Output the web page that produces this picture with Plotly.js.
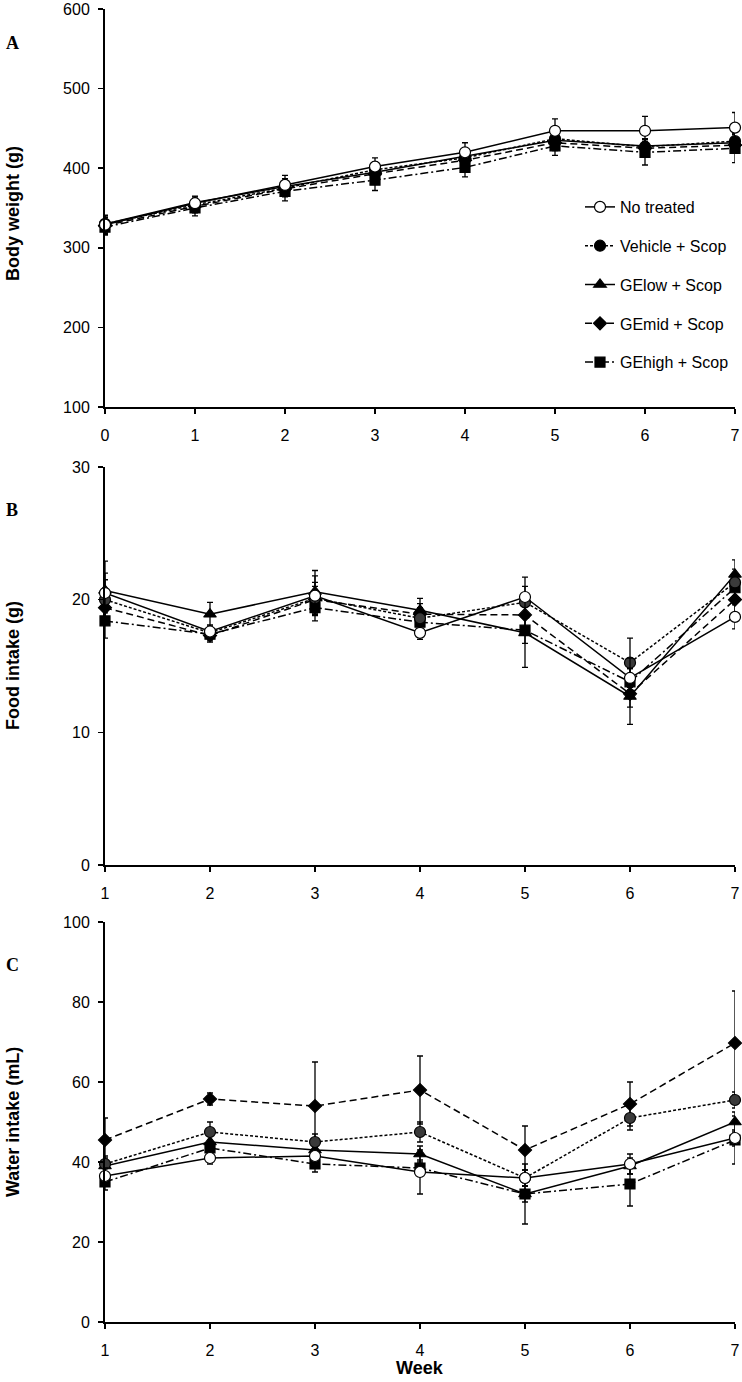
<!DOCTYPE html>
<html>
<head>
<meta charset="utf-8">
<script src="https://cdn.plot.ly/plotly-3.0.1.min.js"></script>
<style>html,body{margin:0;padding:0;background:#fff;}#chart{width:742px;height:1382px;}</style>
</head>
<body>
<div id="chart"></div>
<script>
// ---------- DATA ----------
const groups = ["No treated", "Vehicle + Scop", "GElow + Scop", "GEmid + Scop", "GEhigh + Scop"];

// Panel A: body weight (g), weeks 0-7
const weeksA = [0, 1, 2, 3, 4, 5, 6, 7];
const bwNoTreated = [329, 356, 379, 402, 420, 447, 447, 451];
const bwVehicle   = [330, 354, 375, 398, 413, 437, 427, 434];
const bwGElow     = [330, 357, 377, 395, 415, 435, 428, 432];
const bwGEmid     = [328, 352, 374, 393, 410, 432, 425, 429];
const bwGEhigh    = [326, 350, 371, 385, 401, 428, 420, 425];
const bwNoTreatedErr = [12, 8, 12, 11, 12, 15, 18, 19];
const bwVehicleErr   = [10, 8, 10, 10, 10, 10, 10, 10];
const bwGElowErr     = [10, 8, 10, 10, 10, 10, 8, 10];
const bwGEmidErr     = [10, 8, 10, 10, 10, 10, 8, 10];
const bwGEhighErr    = [10, 10, 12, 13, 12, 12, 16, 18];

// Panel B: food intake (g), weeks 1-7
const weeksBC = [1, 2, 3, 4, 5, 6, 7];
const foodNoTreated = [20.5, 17.6, 20.3, 17.5, 20.2, 14.1, 18.7];
const foodVehicle   = [20.0, 17.5, 20.1, 18.6, 19.8, 15.25, 21.3];
const foodGElow     = [20.7, 18.9, 20.6, 19.2, 17.5, 12.7, 21.9];
const foodGEmid     = [19.4, 17.3, 20.0, 18.9, 18.85, 12.9, 20.0];
const foodGEhigh    = [18.4, 17.4, 19.4, 18.3, 17.7, 13.8, 20.9];
const foodNoTreatedErr = [1.5, 0.5, 1.5, 0.5, 1.5, 1.5, 0.9];
const foodVehicleErr   = [1.5, 0.5, 1.2, 0.8, 1.2, 1.85, 1.0];
const foodGElowErr     = [2.2, 0.9, 1.6, 0.9, 2.6, 2.1, 1.1];
const foodGEmidErr     = [1.0, 0.5, 1.0, 0.8, 1.0, 1.0, 1.0];
const foodGEhighErr    = [1.3, 0.5, 1.0, 0.8, 1.0, 1.0, 1.0];

// Panel C: water intake (mL), weeks 1-7
const waterNoTreated = [36.5, 41, 41.5, 37.5, 36, 39.5, 46];
const waterVehicle   = [39.5, 47.5, 45, 47.5, 36, 51, 55.5];
const waterGElow     = [39, 45, 43, 42, 32, 39, 50];
const waterGEmid     = [45.5, 55.75, 54, 58, 43, 54.5, 69.75];
const waterGEhigh    = [35, 43.5, 39.5, 38.5, 32, 34.5, 45.5];
const waterNoTreatedErr = [2, 1.5, 2, 5.5, 2, 2.5, 2];
const waterVehicleErr   = [2, 2.5, 2, 2.5, 2, 3, 2];
const waterGElowErr     = [2, 2, 2, 2, 2, 2, 2.5];
const waterGEmidErr     = [5.5, 1.5, 11, 8.5, 6, 5.5, 13];
const waterGEhighErr    = [2, 1.5, 2, 2, 7.5, 5.5, 6];

// ---------- STYLES ----------
const styles = [
  {dash: "solid", symbol: "circle", size: 11, color: "#ffffff"},
  {dash: "3px,2px", symbol: "circle", size: 11, color: "#000000"},
  {dash: "solid", symbol: "triangle-up", size: 11, color: "#000000"},
  {dash: "7px,4px", symbol: "diamond", size: 10, color: "#000000"},
  {dash: "8px,3px,2px,3px", symbol: "square", size: 10, color: "#000000"}
];
const grayVehicle = "#3a3a3a";

function makeTrace(name, i, x, y, err, xa, ya, showLegend, panel) {
  const s = styles[i];
  let mcolor = s.color;
  if (i === 1 && panel !== "A") mcolor = grayVehicle;
  return {
    type: "scatter", mode: "lines+markers", name: name,
    x: x, y: y, xaxis: xa, yaxis: ya,
    legendgroup: "g" + i, legendrank: i + 1, showlegend: showLegend, cliponaxis: false,
    line: {color: "#000", width: 1.5, dash: s.dash},
    marker: {symbol: s.symbol, size: s.size, color: mcolor, line: {color: "#000", width: 1.2}},
    error_y: {type: "data", array: err, visible: true, color: "#000", thickness: 1.3, width: 3}
  };
}

const bwSeries = [bwNoTreated, bwVehicle, bwGElow, bwGEmid, bwGEhigh];
const bwErrs = [bwNoTreatedErr, bwVehicleErr, bwGElowErr, bwGEmidErr, bwGEhighErr];
const foodSeries = [foodNoTreated, foodVehicle, foodGElow, foodGEmid, foodGEhigh];
const foodErrs = [foodNoTreatedErr, foodVehicleErr, foodGElowErr, foodGEmidErr, foodGEhighErr];
const waterSeries = [waterNoTreated, waterVehicle, waterGElow, waterGEmid, waterGEhigh];
const waterErrs = [waterNoTreatedErr, waterVehicleErr, waterGElowErr, waterGEmidErr, waterGEhighErr];

const traces = [];
const order = [4, 3, 2, 1, 0];
order.forEach(i => traces.push(makeTrace(groups[i], i, weeksA, bwSeries[i], bwErrs[i], "x", "y", true, "A")));
order.forEach(i => traces.push(makeTrace(groups[i], i, weeksBC, foodSeries[i], foodErrs[i], "x2", "y2", false, "B")));
order.forEach(i => traces.push(makeTrace(groups[i], i, weeksBC, waterSeries[i], waterErrs[i], "x3", "y3", false, "C")));

// ---------- LAYOUT ----------
const W = 742, H = 1382;
const px = v => v / W;
const py = v => 1 - v / H;
const tickFont = {family: "Liberation Sans, Arial, sans-serif", size: 16, color: "#000"};
function axisBase(extra) {
  return Object.assign({
    showline: true, linecolor: "#000", linewidth: 2,
    ticks: "outside", ticklen: 5, tickwidth: 1.5, tickcolor: "#000",
    showgrid: false, zeroline: false, tickfont: tickFont, fixedrange: true,
    ticklabeloverflow: "allow"
  }, extra);
}
const xDomain = [px(105), px(735)];
const xExtra = {ticklabelstandoff: 8};
const yExtra = {ticklabelstandoff: 5};

const titleFont = {family: "Liberation Sans, Arial, sans-serif", size: 18, color: "#000"};
const letterFont = {family: "Liberation Serif, Times New Roman, serif", size: 18, color: "#000"};

const layout = {
  width: W, height: H,
  margin: {l: 0, r: 0, t: 0, b: 0},
  paper_bgcolor: "#fff", plot_bgcolor: "#fff",
  showlegend: true,
  legend: {
    x: px(580), y: py(190), xanchor: "left", yanchor: "top",
    traceorder: "grouped", tracegroupgap: 15,
    font: {family: "Liberation Sans, Arial, sans-serif", size: 16, color: "#000"},
    bgcolor: "rgba(0,0,0,0)", itemwidth: 30
  },
  xaxis: axisBase(Object.assign({domain: xDomain, anchor: "y", range: [0, 7], tickvals: [0,1,2,3,4,5,6,7]}, xExtra)),
  yaxis: axisBase(Object.assign({domain: [py(407), py(9)], anchor: "x", range: [100, 600], tickvals: [100,200,300,400,500,600]}, yExtra)),
  xaxis2: axisBase(Object.assign({domain: xDomain, anchor: "y2", range: [1, 7], tickvals: [1,2,3,4,5,6,7]}, xExtra)),
  yaxis2: axisBase(Object.assign({domain: [py(865), py(467)], anchor: "x2", range: [0, 30], tickvals: [0,10,20,30]}, yExtra)),
  xaxis3: axisBase(Object.assign({domain: xDomain, anchor: "y3", range: [1, 7], tickvals: [1,2,3,4,5,6,7]}, xExtra)),
  yaxis3: axisBase(Object.assign({domain: [py(1322), py(922)], anchor: "x3", range: [0, 100], tickvals: [0,20,40,60,80,100]}, yExtra)),
  annotations: [
    {text: "<b>A</b>", x: px(12), y: py(43), xanchor: "center", yanchor: "middle", xref: "paper", yref: "paper", showarrow: false, font: letterFont},
    {text: "<b>B</b>", x: px(12), y: py(510), xanchor: "center", yanchor: "middle", xref: "paper", yref: "paper", showarrow: false, font: letterFont},
    {text: "<b>C</b>", x: px(12), y: py(965), xanchor: "center", yanchor: "middle", xref: "paper", yref: "paper", showarrow: false, font: letterFont},
    {text: "<b>Body weight (g)</b>", textangle: -90, x: px(13), y: py(214), xanchor: "center", yanchor: "middle", xref: "paper", yref: "paper", showarrow: false, font: titleFont},
    {text: "<b>Food intake (g)</b>", textangle: -90, x: px(13), y: py(666), xanchor: "center", yanchor: "middle", xref: "paper", yref: "paper", showarrow: false, font: titleFont},
    {text: "<b>Water intake (mL)</b>", textangle: -90, x: px(13), y: py(1122), xanchor: "center", yanchor: "middle", xref: "paper", yref: "paper", showarrow: false, font: titleFont},
    {text: "<b>Week</b>", x: px(420), y: py(1368), xanchor: "center", yanchor: "middle", xref: "paper", yref: "paper", showarrow: false, font: titleFont}
  ]
};

Plotly.newPlot("chart", traces, layout, {staticPlot: true, displayModeBar: false});
</script>
</body>
</html>
